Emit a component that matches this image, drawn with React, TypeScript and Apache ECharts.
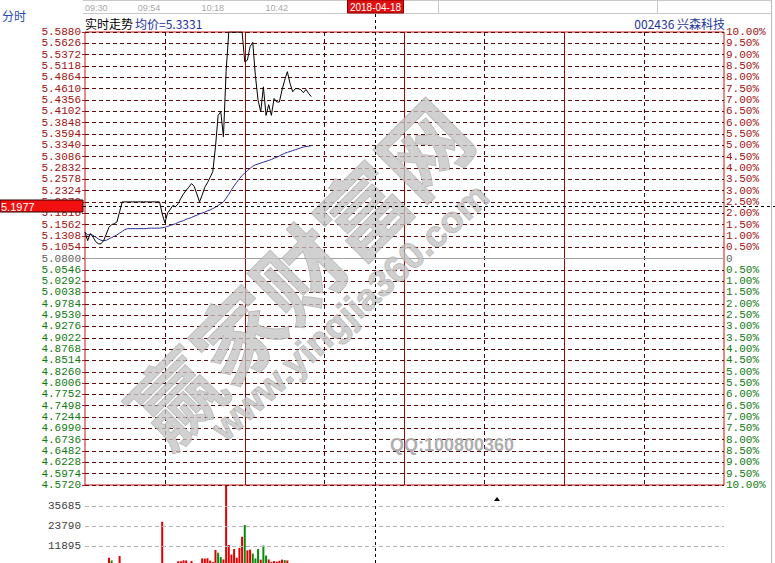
import React, { useEffect, useRef } from 'react';
import * as echarts from 'echarts';

// ---------- data ----------
const preClose = 5.08;
const priceMin = 4.572;
const priceMax = 5.588;
const priceStep = 0.0254;
const volTop = 47580;      // volume at the top of the volume pane
const volVisibleMin = 1784; // volume at the bottom edge of the page (pane is cut off)
const volTicks = [11895, 23790, 35685];
const timeLabelsShown = ['09:30', '09:54', '10:18', '10:42'];

const price = [
  5.139, 5.120, 5.136, 5.128, 5.118, 5.113, 5.113, 5.120, 5.135, 5.150,
  5.156, 5.158, 5.162, 5.185, 5.207, 5.207, 5.207, 5.207, 5.207, 5.207,
  5.207, 5.207, 5.207, 5.207, 5.207, 5.207, 5.207, 5.207, 5.207, 5.180,
  5.160, 5.182, 5.190, 5.199, 5.196, 5.203, 5.215, 5.225, 5.233, 5.240,
  5.248, 5.242, 5.225, 5.207, 5.222, 5.240, 5.250, 5.262, 5.275, 5.330,
  5.401, 5.409, 5.353, 5.500, 5.588, 5.588, 5.588, 5.588, 5.588, 5.588,
  5.521, 5.525, 5.555, 5.565, 5.490, 5.435, 5.409, 5.465, 5.401, 5.425,
  5.401, 5.439, 5.431, 5.431, 5.458, 5.480, 5.499, 5.473, 5.454, 5.461,
  5.461, 5.459, 5.452, 5.459, 5.450, 5.443,
];

const avgPrice = [
  5.139, 5.133, 5.134, 5.132, 5.128, 5.124, 5.121, 5.120, 5.121, 5.124,
  5.127, 5.130, 5.133, 5.137, 5.141, 5.145, 5.147, 5.147, 5.147, 5.147,
  5.147, 5.147, 5.147, 5.147, 5.148, 5.148, 5.148, 5.148, 5.148, 5.149,
  5.150, 5.152, 5.154, 5.156, 5.158, 5.161, 5.163, 5.165, 5.168, 5.170,
  5.172, 5.175, 5.177, 5.180, 5.182, 5.184, 5.187, 5.189, 5.192, 5.195,
  5.199, 5.203, 5.207, 5.215, 5.224, 5.234, 5.243, 5.251, 5.259, 5.266,
  5.272, 5.277, 5.282, 5.287, 5.290, 5.292, 5.294, 5.296, 5.298, 5.300,
  5.302, 5.305, 5.307, 5.310, 5.313, 5.316, 5.318, 5.320, 5.322, 5.324,
  5.326, 5.328, 5.330, 5.331, 5.332, 5.333,
];

const volume = [
  1500, 800, 900, 700, 600, 900, 700, 800, 1200, 4900,
  3300, 1500, 1400, 5900, 1800, 1200, 900, 700, 800, 600,
  500, 700, 600, 500, 600, 800, 700, 900, 1500, 26350,
  1500, 1200, 1000, 1400, 1600, 2900, 2800, 3400, 3300, 1800,
  3000, 1500, 1600, 1400, 4500, 4400, 4600, 3200, 2400, 9500,
  7900, 5300, 3900, 60000, 12500, 6800, 10100, 4900, 10700, 17400,
  24400, 9300, 9800, 7400, 4500, 10100, 3800, 12200, 6200, 3900,
  2500, 2900, 2600, 3100, 3800, 3500, 3300, 1500, 1200, 1400,
  1100, 1000, 900, 1200, 800, 1000,
];

// u = red (up), d = green (down)
const volDir = [
  'uuuuuuuuuu', 'duuuuuuuuu', 'uuuuuuuuuu', 'uuuuuuuuuu', 'uuuuuuuuuu',
  'dduuuuuuuu', 'duuddduddu', 'uuuuuduuuu', 'uuuuuu',
].join('');

const crossTime = '11:19';
const crossPrice = 5.1977;
const crossDate = '2018-04-18';
const avgLabel = '5.3331';
const stockCode = '002436';
const stockName = '兴森科技';

// ---------- helpers ----------
const pad = (n: number) => (n < 10 ? '0' + n : '' + n);
const fmt = (t: number) => pad(Math.floor(t / 60)) + ':' + pad(t % 60);
const times: string[] = [];
for (let t = 9 * 60 + 30; t <= 11 * 60 + 30; t++) times.push(fmt(t));
for (let t = 13 * 60 + 1; t <= 15 * 60; t++) times.push(fmt(t));

const RED = '#a01010';
const GREEN = '#107a10';
const GREY = '#606060';
const colorFor = (v: any) => {
  const n = Number(v);
  if (n > preClose + 0.0001) return RED;
  if (n < preClose - 0.0001) return GREEN;
  return GREY;
};
const pctFmt = (v: any) => {
  const p = Math.abs((Number(v) - preClose) / preClose * 100);
  if (p < 0.001) return '0';
  return p.toFixed(2) + '%';
};

const MONO = '"Liberation Mono", "DejaVu Sans Mono", monospace';
const CJK = '"Noto Sans CJK SC", sans-serif';
const SANS = '"Liberation Sans", Arial, sans-serif';

const GL = 85;
const GW = 639;
const GT = 32;
const GH = 453;

export default function App() {
  const ref = useRef<HTMLDivElement>(null);
  useEffect(() => {
    if (!ref.current) return;
    const chart = echarts.init(ref.current, null, { renderer: 'svg' });
    const option: any = {
      animation: false,
      backgroundColor: '#ffffff',
      grid: [
        { left: GL, width: GW, top: GT, height: GH, show: true, borderColor: '#c81414', borderWidth: 1, backgroundColor: 'transparent' },
        { left: GL, width: GW, top: GT + GH + 1, bottom: 0 },
      ],
      xAxis: [
        {
          type: 'category', gridIndex: 0, data: times, boundaryGap: false,
          axisLine: { show: false }, axisTick: { show: false }, axisLabel: { show: false },
          splitLine: { show: true, interval: (i: number) => i % 60 === 30, lineStyle: { color: '#4a0808', type: [4, 3], width: 1 } },
        },
        {
          type: 'category', gridIndex: 0, data: times, boundaryGap: false, position: 'top',
          axisLine: { show: false }, axisTick: { show: false },
          axisLabel: {
            show: true, interval: (i: number, v: string) => timeLabelsShown.includes(v),
            color: '#a8a8a8', fontSize: 9, fontFamily: SANS, margin: 20, alignMinLabel: 'left',
          },
          splitLine: { show: true, interval: (i: number) => i > 0 && i < 240 && i % 60 === 0, lineStyle: { color: '#960c0c', type: 'solid', width: 1 } },
        },
        { type: 'category', gridIndex: 1, data: times, boundaryGap: false, show: false },
      ],
      yAxis: [
        {
          type: 'value', gridIndex: 0, min: priceMin, max: priceMax, interval: priceStep, position: 'left',
          axisLine: { show: false },
          axisTick: { show: true, length: 3, lineStyle: { color: '#c81414' } },
          axisLabel: { formatter: (v: number) => Number(v).toFixed(4), color: colorFor, fontFamily: MONO, fontSize: 11, margin: 4 },
          splitLine: { show: true, lineStyle: { color: '#5a0a0a', type: [4, 3], width: 1 } },
        },
        {
          type: 'value', gridIndex: 0, min: priceMin, max: priceMax, interval: priceStep, position: 'right',
          axisLine: { show: false }, axisTick: { show: false },
          axisLabel: { formatter: pctFmt, color: colorFor, fontFamily: MONO, fontSize: 11, margin: 2 },
          splitLine: { show: false },
        },
        {
          type: 'value', gridIndex: 1, min: volVisibleMin, max: volTop, position: 'left',
          axisLine: { show: false }, axisTick: { show: false }, axisLabel: { show: false },
          splitLine: { show: false },
        },
      ],
      series: [
        {
          type: 'line', xAxisIndex: 0, yAxisIndex: 0, data: avgPrice, symbol: 'none',
          lineStyle: { color: '#2c2c9a', width: 1 }, z: 4,
        },
        {
          type: 'line', xAxisIndex: 0, yAxisIndex: 0, data: price, symbol: 'none',
          lineStyle: { color: '#000000', width: 1 }, z: 5,
          markLine: {
            silent: true, symbol: 'none', label: { show: false },
            lineStyle: { color: '#a0a0a0', type: 'solid', width: 1 },
            data: [{ yAxis: preClose }],
          },
        },
        {
          type: 'bar', xAxisIndex: 2, yAxisIndex: 2, barWidth: 2,
          data: volume.map((v, i) => ({ value: v, itemStyle: { color: volDir[i] === 'd' ? '#0a8a0a' : '#e00000' } })),
          markLine: {
            silent: true, symbol: 'none',
            label: {
              show: true, position: 'start', distance: 4, formatter: (p: any) => String(p.value),
              color: '#404040', fontFamily: MONO, fontSize: 11,
            },
            lineStyle: { color: '#b4b4b4', type: [4, 3], width: 1 },
            data: volTicks.map((v) => ({ yAxis: v })),
          },
        },
      ],
    };
    chart.setOption(option);

    const cx = Math.round(chart.convertToPixel({ xAxisIndex: 0 }, crossTime) as number) + 0.5;
    const cy = Math.round(chart.convertToPixel({ yAxisIndex: 0 }, crossPrice) as number) + 0.5;

    const graphics: any[] = [
      // watermark
      {
        type: 'text', x: 297, y: 270, rotation: Math.PI / 4, z: 20, silent: true,
        style: { text: '赢家财富网', font: `bold 88px ${CJK}`, fill: 'rgba(196,196,196,0.78)', stroke: 'rgba(140,140,140,0.6)', lineWidth: 1, align: 'center', verticalAlign: 'middle' },
      },
      {
        type: 'text', x: 350, y: 312, rotation: 0.74, z: 20, silent: true,
        style: { text: 'www.yingjia360.com', font: `bold 37px ${SANS}`, fill: 'rgba(196,196,196,0.78)', stroke: 'rgba(140,140,140,0.6)', lineWidth: 1, align: 'center', verticalAlign: 'middle' },
      },
      {
        type: 'text', x: 452, y: 445, z: 20, silent: true,
        style: { text: 'QQ:100800360', font: `bold 18px ${SANS}`, fill: 'rgba(170,170,170,0.95)', align: 'center', verticalAlign: 'middle' },
      },
      // header strip
      { type: 'line', z: 30, shape: { x1: 83, y1: 0.5, x2: 771, y2: 0.5 }, style: { stroke: '#c8c8c8', lineWidth: 1 } },
      { type: 'line', z: 30, shape: { x1: 83, y1: 13.5, x2: 771, y2: 13.5 }, style: { stroke: '#c8c8c8', lineWidth: 1 } },
      { type: 'line', z: 30, shape: { x1: 438.5, y1: 0, x2: 438.5, y2: 13 }, style: { stroke: '#c8c8c8', lineWidth: 1 } },
      { type: 'line', z: 30, shape: { x1: 657.5, y1: 0, x2: 657.5, y2: 13 }, style: { stroke: '#c8c8c8', lineWidth: 1 } },
      { type: 'line', z: 30, shape: { x1: 771.5, y1: 0, x2: 771.5, y2: 563 }, style: { stroke: '#b8b8b8', lineWidth: 1 } },
      // titles
      { type: 'text', x: 2, y: 15, z: 30, style: { text: '分时', font: `12px ${CJK}`, fill: '#2848b0', verticalAlign: 'middle' } },
      { type: 'text', x: 85, y: 23, z: 30, style: { text: '实时走势', font: `12px ${CJK}`, fill: '#000000', verticalAlign: 'middle' } },
      { type: 'text', x: 135, y: 23, z: 30, style: { text: '均价=' + avgLabel, font: `12px ${CJK}`, fill: '#1c2ea0', verticalAlign: 'middle' } },
      { type: 'text', x: 725, y: 23, z: 30, style: { text: stockCode + ' ' + stockName, font: `12px ${CJK}`, fill: '#22349c', align: 'right', verticalAlign: 'middle' } },
      // crosshair
      { type: 'line', z: 31, shape: { x1: cx, y1: 14, x2: cx, y2: 563 }, style: { stroke: '#000000', lineWidth: 1, lineDash: [3, 3] } },
      { type: 'line', z: 31, shape: { x1: 83, y1: cy, x2: 775, y2: cy }, style: { stroke: '#000000', lineWidth: 1, lineDash: [3, 3] } },
      { type: 'rect', z: 32, shape: { x: cx - 28, y: 0, width: 56, height: 13 }, style: { fill: '#e01010', stroke: '#8a0000', lineWidth: 1 } },
      { type: 'text', x: cx, y: 7, z: 33, style: { text: crossDate, font: `10px ${SANS}`, fill: '#ffffff', align: 'center', verticalAlign: 'middle' } },
      { type: 'rect', z: 32, shape: { x: 0, y: cy - 6.5, width: 83, height: 12 }, style: { fill: '#f01010', stroke: '#300000', lineWidth: 1 } },
      { type: 'text', x: 1, y: cy, z: 33, style: { text: crossPrice.toFixed(4), font: `11px ${SANS}`, fill: '#ffffff', verticalAlign: 'middle' } },
      // small marker
      { type: 'polygon', z: 30, shape: { points: [[494, 501], [500, 501], [497, 497]] }, style: { fill: '#000000' } },
    ];
    chart.setOption({ graphic: graphics });

    return () => chart.dispose();
  }, []);
  return <div ref={ref} style={{ position: 'fixed', left: 0, top: 0, width: 775, height: 563 }} />;
}
